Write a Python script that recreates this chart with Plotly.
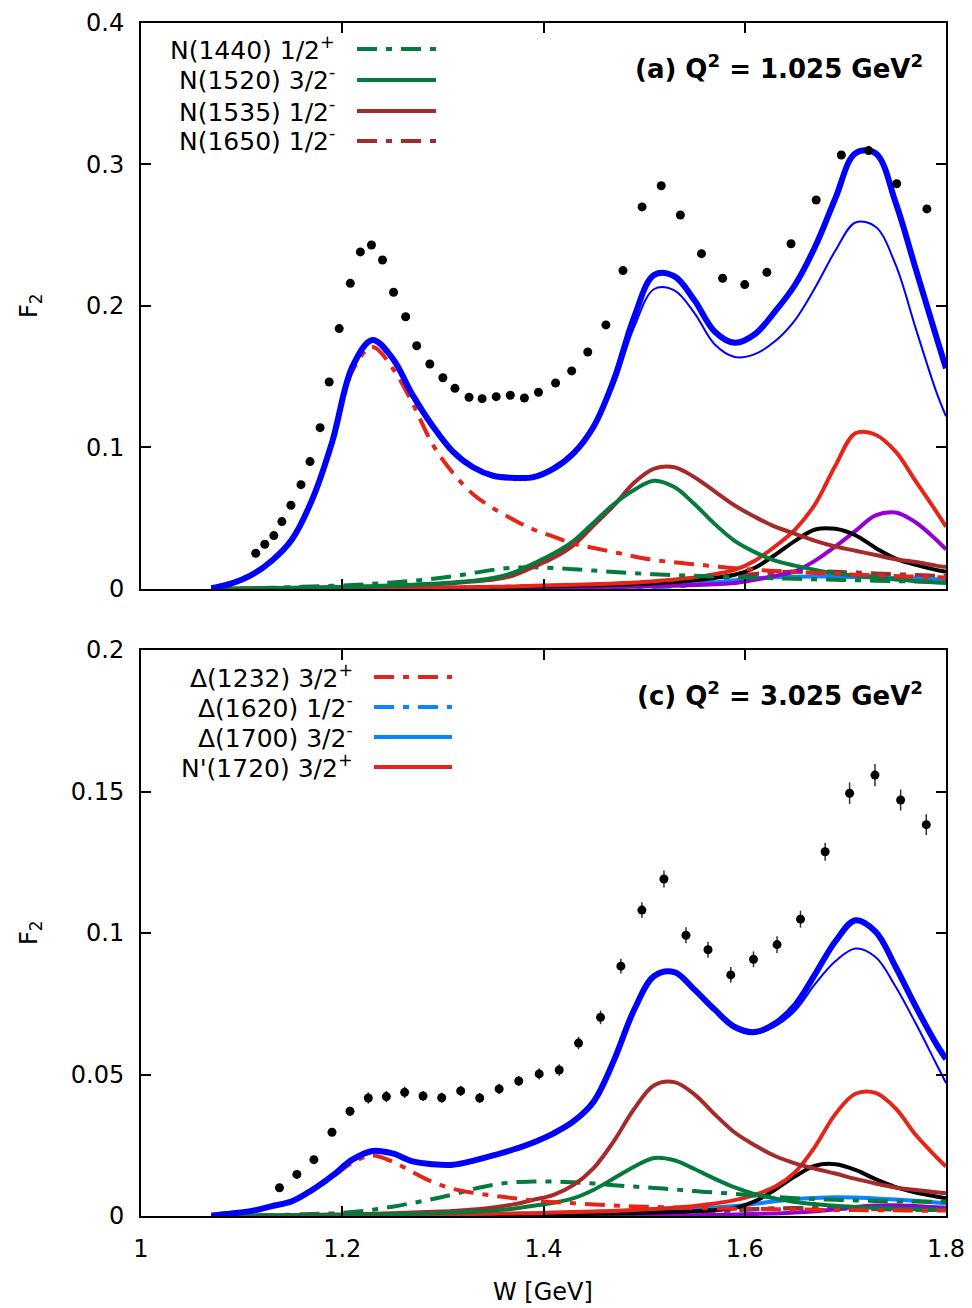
import plotly.graph_objects as go

# ---------------- data ----------------
W = [1.07, 1.09, 1.11, 1.13, 1.15, 1.17, 1.19, 1.21, 1.23, 1.25, 1.27, 1.29, 1.31, 1.33,
     1.35, 1.37, 1.39, 1.41, 1.43, 1.45, 1.47, 1.49, 1.51, 1.53, 1.55, 1.57, 1.59, 1.61,
     1.63, 1.65, 1.67, 1.69, 1.71, 1.73, 1.75, 1.77, 1.79, 1.80]

# panel (a) Q2 = 1.025
A_TOTAL = [0.0005, 0.004, 0.010, 0.020, 0.035, 0.063, 0.104, 0.157, 0.176, 0.163, 0.137, 0.115, 0.097, 0.086,
           0.080, 0.0785, 0.079, 0.085, 0.096, 0.115, 0.148, 0.192, 0.222, 0.221, 0.204, 0.182, 0.174, 0.180,
           0.196, 0.215, 0.242, 0.276, 0.308, 0.308, 0.273, 0.226, 0.179, 0.156]
A_TOTAL_THIN = [0.0005, 0.004, 0.010, 0.020, 0.035, 0.063, 0.104, 0.157, 0.176, 0.163, 0.137, 0.115, 0.097, 0.086,
                0.080, 0.0785, 0.079, 0.085, 0.096, 0.114, 0.144, 0.185, 0.212, 0.211, 0.195, 0.173, 0.164, 0.166,
                0.175, 0.190, 0.213, 0.239, 0.259, 0.256, 0.229, 0.184, 0.140, 0.122]
A_D1232 = [0.0005, 0.004, 0.010, 0.020, 0.035, 0.062, 0.103, 0.154, 0.171, 0.156, 0.131, 0.102, 0.082, 0.067,
           0.057, 0.049, 0.042, 0.037, 0.032, 0.029, 0.026, 0.023, 0.0205, 0.0188, 0.0175, 0.016, 0.0146, 0.0136,
           0.0127, 0.012, 0.0113, 0.0107, 0.0101, 0.0096, 0.0091, 0.0087, 0.0083, 0.0081]
A_N1440 = [0, 0.0002, 0.0005, 0.0009, 0.0013, 0.0017, 0.0022, 0.0028, 0.0036, 0.0046, 0.0058, 0.0072, 0.0090, 0.0112,
           0.0135, 0.0150, 0.0153, 0.0148, 0.0139, 0.0130, 0.0120, 0.0111, 0.0104, 0.0098, 0.0093, 0.0088, 0.0084, 0.0080,
           0.0076, 0.0072, 0.0068, 0.0065, 0.0062, 0.0058, 0.0055, 0.0052, 0.0049, 0.0048]
A_N1520 = [0, 0.0002, 0.0004, 0.0006, 0.0008, 0.001, 0.0013, 0.0016, 0.002, 0.0025, 0.003, 0.0037, 0.0046, 0.0058,
           0.0077, 0.0115, 0.018, 0.025, 0.034, 0.047, 0.060, 0.070, 0.0765, 0.072, 0.060, 0.046, 0.034, 0.026,
           0.020, 0.0165, 0.0135, 0.011, 0.0095, 0.0082, 0.0067, 0.0056, 0.0046, 0.0042]
A_N1535 = [0, 0.0001, 0.0003, 0.0005, 0.0007, 0.0009, 0.0012, 0.0015, 0.0018, 0.0022, 0.0027, 0.0033, 0.0041, 0.0052,
           0.0067, 0.0095, 0.0155, 0.022, 0.031, 0.045, 0.059, 0.075, 0.085, 0.086, 0.079, 0.069, 0.059, 0.051,
           0.044, 0.039, 0.034, 0.030, 0.027, 0.024, 0.021, 0.019, 0.0165, 0.0155]
A_N1650 = [0, 0, 0.0001, 0.0001, 0.0002, 0.0002, 0.0003, 0.0004, 0.0005, 0.0006, 0.0007, 0.0008, 0.0010, 0.0012,
           0.0014, 0.0016, 0.0019, 0.0022, 0.0026, 0.0030, 0.0035, 0.0041, 0.0048, 0.0056, 0.0066, 0.0078, 0.0092, 0.0106,
           0.0117, 0.0123, 0.0124, 0.0121, 0.0116, 0.0110, 0.0104, 0.0099, 0.0094, 0.0092]
A_BLACK = [0, 0, 0.0001, 0.0001, 0.0002, 0.0002, 0.0003, 0.0003, 0.0004, 0.0005, 0.0006, 0.0007, 0.0008, 0.001,
           0.0012, 0.0014, 0.0017, 0.002, 0.0023, 0.0026, 0.003, 0.0034, 0.004, 0.005, 0.0062, 0.0078, 0.010, 0.015,
           0.024, 0.034, 0.042, 0.0425, 0.038, 0.029, 0.0215, 0.017, 0.0135, 0.0122]
A_N1720 = [0, 0.0001, 0.0001, 0.0002, 0.0002, 0.0003, 0.0003, 0.0004, 0.0005, 0.0006, 0.0007, 0.0008, 0.001, 0.0012,
           0.0015, 0.0018, 0.0022, 0.0026, 0.003, 0.0034, 0.0039, 0.0045, 0.0055, 0.0067, 0.0082, 0.0105, 0.0135, 0.020,
           0.030, 0.042, 0.060, 0.087, 0.110, 0.109, 0.097, 0.076, 0.055, 0.044]
A_PURPLE = [0, 0, 0, 0, 0.0001, 0.0001, 0.0001, 0.0002, 0.0002, 0.0003, 0.0003, 0.0004, 0.0005, 0.0006,
            0.0007, 0.0008, 0.0009, 0.001, 0.0011, 0.0012, 0.0014, 0.0016, 0.0019, 0.0023, 0.0028, 0.0034, 0.0042, 0.0065,
            0.0092, 0.0125, 0.020, 0.030, 0.041, 0.052, 0.054, 0.047, 0.035, 0.028]
A_D1620 = [0, 0, 0, 0, 0, 0, 0, 0, 0, 0, 0.0001, 0.0001, 0.0001, 0.0002,
           0.0002, 0.0003, 0.0003, 0.0004, 0.0005, 0.0006, 0.0008, 0.001, 0.0013, 0.0018, 0.0027, 0.0045, 0.0072, 0.0098,
           0.0115, 0.0121, 0.0117, 0.011, 0.0102, 0.0094, 0.0087, 0.008, 0.0074, 0.0072]
A_D1700 = [0, 0, 0, 0, 0.0001, 0.0001, 0.0001, 0.0002, 0.0002, 0.0003, 0.0003, 0.0004, 0.0005, 0.0006,
           0.0007, 0.0008, 0.0009, 0.0011, 0.0013, 0.0015, 0.0018, 0.0021, 0.0025, 0.003, 0.0037, 0.0047, 0.0062, 0.0075,
           0.0083, 0.0087, 0.0088, 0.0087, 0.0084, 0.0081, 0.0077, 0.0073, 0.0069, 0.0067]

A_DATA_W = [1.114, 1.123, 1.132, 1.140, 1.149, 1.159, 1.168, 1.178, 1.187, 1.197, 1.208, 1.218, 1.229, 1.240,
            1.251, 1.263, 1.274, 1.287, 1.300, 1.312, 1.326, 1.339, 1.353, 1.367, 1.381, 1.395, 1.412, 1.428,
            1.444, 1.462, 1.479, 1.498, 1.517, 1.536, 1.557, 1.578, 1.600, 1.622, 1.646, 1.671, 1.696, 1.723,
            1.751, 1.781]
A_DATA_F2 = [0.0252, 0.0316, 0.0377, 0.0476, 0.0592, 0.0737, 0.0900, 0.1140, 0.1463, 0.1840, 0.2160, 0.2382, 0.2431,
             0.2325, 0.2097, 0.1924, 0.1719, 0.1590, 0.1493, 0.1418, 0.1355, 0.1345, 0.1359, 0.1369, 0.1350, 0.1390,
             0.1456, 0.1541, 0.1675, 0.1866, 0.2250, 0.2700, 0.2850, 0.2643, 0.2370, 0.2196, 0.2151, 0.2238, 0.2440,
             0.2749, 0.3067, 0.3098, 0.2864, 0.2686]

# panel (c) Q2 = 3.025
C_TOTAL = [0.0002, 0.0009, 0.0018, 0.0035, 0.0052, 0.0092, 0.0142, 0.0199, 0.0230, 0.0221, 0.0193, 0.0183, 0.0181, 0.0195,
           0.0214, 0.0235, 0.0260, 0.0292, 0.0335, 0.0405, 0.055, 0.0728, 0.0848, 0.0862, 0.080, 0.073, 0.0668, 0.065,
           0.068, 0.0745, 0.0855, 0.097, 0.1045, 0.1005, 0.088, 0.074, 0.061, 0.0555]
C_TOTAL_THIN = [0.0002, 0.0009, 0.0018, 0.0035, 0.0052, 0.0092, 0.0142, 0.0199, 0.0230, 0.0221, 0.0193, 0.0183, 0.0181, 0.0195,
                0.0214, 0.0235, 0.0260, 0.0292, 0.0335, 0.0404, 0.0548, 0.0724, 0.0843, 0.0857, 0.0795, 0.0725, 0.0663, 0.0645,
                0.067, 0.0725, 0.082, 0.090, 0.0945, 0.0915, 0.081, 0.068, 0.054, 0.047]
C_D1232 = [0.0002, 0.0009, 0.0017, 0.0033, 0.0050, 0.0088, 0.0137, 0.0188, 0.0214, 0.0192, 0.0155, 0.0120, 0.0096, 0.0082,
           0.0072, 0.0063, 0.0055, 0.0049, 0.0045, 0.0041, 0.0037, 0.0034, 0.0032, 0.003, 0.0028, 0.0027, 0.0026, 0.0025,
           0.0024, 0.0023, 0.0022, 0.0021, 0.0021, 0.002, 0.002, 0.0019, 0.0019, 0.0019]
C_N1440 = [0, 0.0001, 0.0002, 0.0003, 0.0005, 0.0007, 0.0009, 0.0014, 0.0022, 0.0033, 0.0046, 0.0060, 0.0076, 0.0095,
           0.0110, 0.0119, 0.0122, 0.0122, 0.0119, 0.0115, 0.0109, 0.0104, 0.0099, 0.0094, 0.0088, 0.0083, 0.0078, 0.0072,
           0.0067, 0.0063, 0.0060, 0.0057, 0.0055, 0.0053, 0.0052, 0.0051, 0.005, 0.005]
C_N1520 = [0, 0, 0.0001, 0.0001, 0.0002, 0.0002, 0.0003, 0.0004, 0.0005, 0.0006, 0.0008, 0.001, 0.0012, 0.0015,
           0.0019, 0.0026, 0.0036, 0.0047, 0.0063, 0.0093, 0.0133, 0.0174, 0.0205, 0.0197, 0.0166, 0.0132, 0.0101, 0.0077,
           0.0062, 0.0049, 0.0042, 0.0036, 0.0032, 0.0029, 0.0026, 0.0024, 0.0022, 0.0021]
C_N1535 = [0, 0.0001, 0.0001, 0.0002, 0.0003, 0.0004, 0.0005, 0.0006, 0.0008, 0.001, 0.0012, 0.0015, 0.0018, 0.0023,
           0.0030, 0.0041, 0.0057, 0.0075, 0.0110, 0.0170, 0.0265, 0.0378, 0.0462, 0.0473, 0.043, 0.036, 0.0295, 0.0250,
           0.0212, 0.0186, 0.0167, 0.0150, 0.0131, 0.0115, 0.0101, 0.0092, 0.0084, 0.008]
C_N1650 = [0, 0, 0, 0, 0, 0.0001, 0.0001, 0.0001, 0.0001, 0.0002, 0.0002, 0.0002, 0.0003, 0.0003,
           0.0004, 0.0004, 0.0005, 0.0006, 0.0007, 0.0008, 0.0009, 0.001, 0.0012, 0.0014, 0.0016, 0.0019, 0.0022, 0.0025,
           0.0027, 0.0028, 0.0028, 0.0027, 0.0026, 0.0025, 0.0024, 0.0023, 0.0022, 0.0022]
C_BLACK = [0, 0, 0, 0, 0.0001, 0.0001, 0.0001, 0.0001, 0.0002, 0.0002, 0.0002, 0.0003, 0.0003, 0.0004,
           0.0004, 0.0005, 0.0005, 0.0006, 0.0007, 0.0008, 0.0009, 0.001, 0.0012, 0.0014, 0.0017, 0.0021, 0.0028, 0.0052,
           0.0093, 0.014, 0.0178, 0.0183, 0.0163, 0.013, 0.0102, 0.0083, 0.0069, 0.0063]
C_N1720 = [0, 0, 0.0001, 0.0001, 0.0001, 0.0002, 0.0002, 0.0003, 0.0003, 0.0004, 0.0004, 0.0005, 0.0006, 0.0007,
           0.0008, 0.0009, 0.001, 0.0012, 0.0014, 0.0016, 0.0018, 0.0021, 0.0025, 0.0029, 0.0035, 0.0044, 0.0056, 0.0075,
           0.0103, 0.0155, 0.0246, 0.036, 0.0432, 0.0435, 0.038, 0.0286, 0.021, 0.0175]
C_PURPLE = [0, 0, 0, 0, 0, 0, 0, 0, 0, 0, 0, 0, 0, 0,
            0, 0, 0.0001, 0.0001, 0.0001, 0.0001, 0.0002, 0.0002, 0.0002, 0.0003, 0.0003, 0.0004, 0.0005, 0.0007,
            0.0009, 0.0012, 0.0017, 0.0024, 0.0032, 0.0037, 0.0038, 0.0035, 0.0031, 0.0029]
C_D1620 = [0, 0, 0, 0, 0, 0, 0, 0, 0, 0, 0, 0, 0, 0.0001,
           0.0001, 0.0001, 0.0002, 0.0002, 0.0003, 0.0003, 0.0004, 0.0005, 0.0006, 0.0008, 0.0010, 0.0014, 0.0019, 0.0023,
           0.0026, 0.0027, 0.0027, 0.0026, 0.0025, 0.0024, 0.0023, 0.0022, 0.0021, 0.0021]
C_D1700 = [0, 0, 0, 0, 0, 0.0001, 0.0001, 0.0001, 0.0002, 0.0002, 0.0003, 0.0003, 0.0004, 0.0005,
           0.0006, 0.0007, 0.0008, 0.001, 0.0011, 0.0013, 0.0015, 0.0017, 0.0019, 0.0022, 0.0026, 0.003, 0.0035, 0.0043,
           0.0052, 0.006, 0.0064, 0.0066, 0.0065, 0.0062, 0.0058, 0.0054, 0.0048, 0.0045]

C_DATA_W = [1.1376, 1.1549, 1.1718, 1.1898, 1.2077, 1.2259, 1.2438, 1.2620, 1.2803, 1.2988, 1.3177, 1.3366, 1.3559,
            1.3754, 1.3957, 1.4156, 1.4348, 1.4567, 1.4769, 1.4978, 1.5197, 1.5416, 1.5635, 1.5861, 1.6087, 1.6321,
            1.6554, 1.6799, 1.7042, 1.7294, 1.7549, 1.7804]
C_DATA_F2 = [0.0100, 0.0147, 0.0199, 0.0296, 0.0370, 0.0417, 0.0422, 0.0437, 0.0424, 0.0418, 0.0442, 0.0417, 0.0449,
             0.0477, 0.0502, 0.0516, 0.0611, 0.0702, 0.0883, 0.1081, 0.1191, 0.0992, 0.0941, 0.0852, 0.0907, 0.0959,
             0.1049, 0.1287, 0.1494, 0.1558, 0.1470, 0.1383]
C_DATA_ERR = [0.0010, 0.0010, 0.0012, 0.0014, 0.0016, 0.0020, 0.0020, 0.0020, 0.0018, 0.0018, 0.0018, 0.0018, 0.0018,
              0.0018, 0.0020, 0.0020, 0.0022, 0.0024, 0.0026, 0.0028, 0.0030, 0.0028, 0.0028, 0.0028, 0.0028, 0.0030,
              0.0030, 0.0032, 0.0038, 0.0039, 0.0037, 0.0037]

LEGEND_A = ["N(1440) 1/2<sup>+</sup>", "N(1520) 3/2<sup>-</sup>", "N(1535) 1/2<sup>-</sup>", "N(1650) 1/2<sup>-</sup>"]
LEGEND_C = ["Δ(1232) 3/2<sup>+</sup>", "Δ(1620) 1/2<sup>-</sup>", "Δ(1700) 3/2<sup>-</sup>", "N'(1720) 3/2<sup>+</sup>"]
TITLE_A = "<b>(a) Q<sup>2</sup> = 1.025 GeV<sup>2</sup></b>"
TITLE_C = "<b>(c) Q<sup>2</sup> = 3.025 GeV<sup>2</sup></b>"

# ---------------- styles ----------------
RED = "#e5241a"
GREEN = "#047a3c"
BROWN = "#a52a2a"
LBLUE = "#0a84ff"
PURPLE = "#9400d3"
BLUE = "#0000ff"
DD = "20px,9px,6px,9px"
LW = 4

FONT = "DejaVu Sans"

fig = go.Figure()


def add_curve(y, color, dash, width, xa, ya):
    fig.add_trace(go.Scatter(x=W, y=y, mode="lines", xaxis=xa, yaxis=ya, showlegend=False,
                             line=dict(color=color, dash=dash, width=width, shape="spline", smoothing=1.0),
                             hoverinfo="skip"))


panels = [
    ("x", "y", dict(total=A_TOTAL, thin=A_TOTAL_THIN, d1232=A_D1232, n1440=A_N1440, n1520=A_N1520, n1535=A_N1535,
                    n1650=A_N1650, black=A_BLACK, n1720=A_N1720, purple=A_PURPLE, d1620=A_D1620, d1700=A_D1700)),
    ("x2", "y2", dict(total=C_TOTAL, thin=C_TOTAL_THIN, d1232=C_D1232, n1440=C_N1440, n1520=C_N1520, n1535=C_N1535,
                      n1650=C_N1650, black=C_BLACK, n1720=C_N1720, purple=C_PURPLE, d1620=C_D1620, d1700=C_D1700)),
]

for xa, ya, s in panels:
    add_curve(s["d1620"], LBLUE, DD, LW, xa, ya)
    add_curve(s["n1650"], BROWN, DD, LW, xa, ya)
    add_curve(s["d1700"], LBLUE, "solid", LW, xa, ya)
    add_curve(s["purple"], PURPLE, "solid", LW, xa, ya)
    add_curve(s["black"], "black", "solid", LW, xa, ya)
    add_curve(s["n1720"], RED, "solid", LW, xa, ya)
    add_curve(s["n1440"], GREEN, DD, LW, xa, ya)
    add_curve(s["n1535"], BROWN, "solid", LW, xa, ya)
    add_curve(s["n1520"], GREEN, "solid", LW, xa, ya)
    add_curve(s["d1232"], RED, DD, LW, xa, ya)
    add_curve(s["thin"], BLUE, "solid", 2, xa, ya)
    add_curve(s["total"], BLUE, "solid", 6, xa, ya)

fig.add_trace(go.Scatter(x=A_DATA_W, y=A_DATA_F2, mode="markers", xaxis="x", yaxis="y", showlegend=False,
                         marker=dict(color="black", size=9)))
fig.add_trace(go.Scatter(x=C_DATA_W, y=C_DATA_F2, mode="markers", xaxis="x2", yaxis="y2", showlegend=False,
                         marker=dict(color="black", size=9),
                         error_y=dict(type="data", array=C_DATA_ERR, thickness=1.5, width=0, color="#333")))

axis_common = dict(showline=True, linecolor="black", linewidth=2, mirror="allticks", ticks="inside",
                   ticklen=10, tickwidth=2, tickcolor="black", showgrid=False, zeroline=False,
                   automargin=False, tickfont=dict(family=FONT, size=24, color="black"))

TOP = [0.5256, 1.0]
BOT = [0.0, 0.4744]

fig.update_layout(
    template="none",
    width=972, height=1308, autosize=False,
    margin=dict(l=141, r=26, t=23, b=92, pad=0),
    paper_bgcolor="white", plot_bgcolor="white",
    font=dict(family=FONT, size=24, color="black"),
    xaxis=dict(domain=[0, 1], anchor="y", range=[1, 1.8], tickvals=[1, 1.2, 1.4, 1.6, 1.8],
               showticklabels=False, **axis_common),
    yaxis=dict(domain=TOP, anchor="x", range=[0, 0.4], tickvals=[0, 0.1, 0.2, 0.3, 0.4],
               ticktext=["0", "0.1", "0.2", "0.3", "0.4"], ticklabelstandoff=10, **axis_common),
    xaxis2=dict(domain=[0, 1], anchor="y2", range=[1, 1.8], tickvals=[1, 1.2, 1.4, 1.6, 1.8],
                ticktext=["1", "1.2", "1.4", "1.6", "1.8"], ticklabelstandoff=10, **axis_common),
    yaxis2=dict(domain=BOT, anchor="x2", range=[0, 0.2], tickvals=[0, 0.05, 0.1, 0.15, 0.2],
                ticktext=["0", "0.05", "0.1", "0.15", "0.2"], ticklabelstandoff=10, **axis_common),
)

# ---------------- legend (gnuplot style: text left, sample right) ----------------
PW = 805.0
PH = 1193.0


def px_x(p):
    return (p - 141) / PW


def px_y(p):
    return (1216 - p) / PH


ann = []
shapes = []
leg_a_styles = [(GREEN, DD), (GREEN, "solid"), (BROWN, "solid"), (BROWN, DD)]
leg_c_styles = [(RED, DD), (LBLUE, DD), (LBLUE, "solid"), (RED, "solid")]
rows_a = [49, 80, 111, 141]
rows_c = [677, 707, 737, 767]
for lbl, (col, dsh), r in zip(LEGEND_A, leg_a_styles, rows_a):
    ann.append(dict(x=px_x(337), y=px_y(r - 1), xref="paper", yref="paper", text=lbl, showarrow=False,
                    xanchor="right", yanchor="middle", font=dict(size=25, family=FONT)))
    shapes.append(dict(type="line", xref="paper", yref="paper", x0=px_x(357), x1=px_x(436),
                       y0=px_y(r), y1=px_y(r), line=dict(color=col, width=LW, dash=dsh)))
for lbl, (col, dsh), r in zip(LEGEND_C, leg_c_styles, rows_c):
    ann.append(dict(x=px_x(355), y=px_y(r - 1), xref="paper", yref="paper", text=lbl, showarrow=False,
                    xanchor="right", yanchor="middle", font=dict(size=25, family=FONT)))
    shapes.append(dict(type="line", xref="paper", yref="paper", x0=px_x(374), x1=px_x(452),
                       y0=px_y(r), y1=px_y(r), line=dict(color=col, width=LW, dash=dsh)))

ann.append(dict(x=px_x(925), y=px_y(67), xref="paper", yref="paper", text=TITLE_A, showarrow=False,
                xanchor="right", yanchor="middle", font=dict(size=26, family=FONT)))
ann.append(dict(x=px_x(925), y=px_y(694), xref="paper", yref="paper", text=TITLE_C, showarrow=False,
                xanchor="right", yanchor="middle", font=dict(size=26, family=FONT)))
ann.append(dict(x=px_x(30), y=px_y(306), xref="paper", yref="paper", text="F<sub>2</sub>", showarrow=False,
                textangle=-90, xanchor="center", yanchor="middle", font=dict(size=24, family=FONT)))
ann.append(dict(x=px_x(30), y=px_y(933), xref="paper", yref="paper", text="F<sub>2</sub>", showarrow=False,
                textangle=-90, xanchor="center", yanchor="middle", font=dict(size=24, family=FONT)))
ann.append(dict(x=px_x(543), y=px_y(1292), xref="paper", yref="paper", text="W [GeV]", showarrow=False,
                xanchor="center", yanchor="middle", font=dict(size=24, family=FONT)))

fig.update_layout(annotations=ann, shapes=shapes)

fig.write_html("out.html")
